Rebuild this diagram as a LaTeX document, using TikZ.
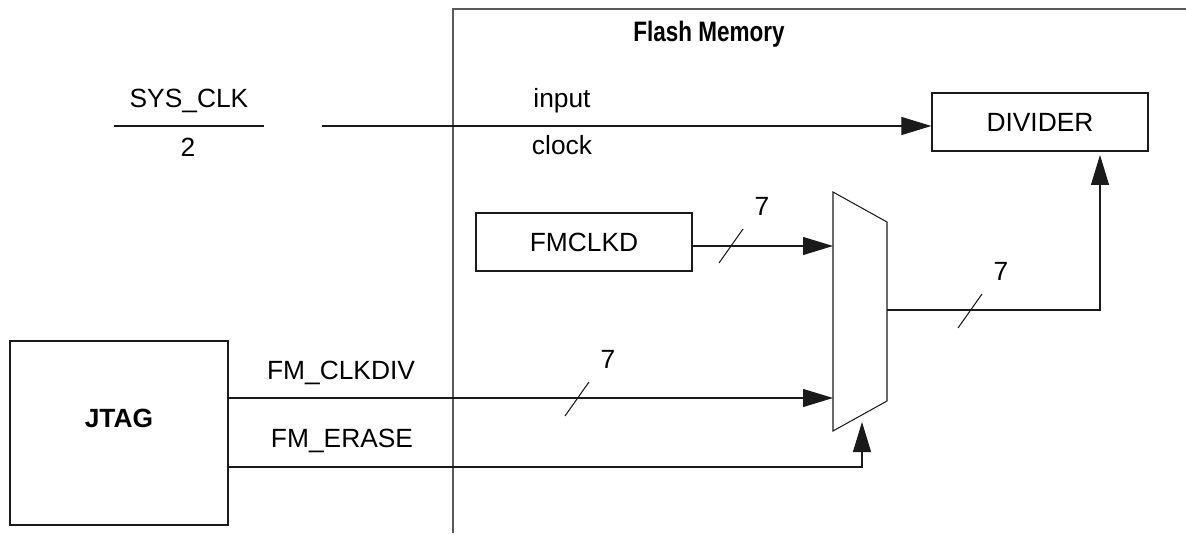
\documentclass[tikz,border=0pt]{standalone}
\usepackage{fontspec}
\setmainfont{Liberation Sans}
\usetikzlibrary{arrows.meta,positioning,calc}
\definecolor{fgray}{HTML}{5A5A5A}
\definecolor{wire}{HTML}{1A1A1A}

\begin{document}
\begin{tikzpicture}[x=0.2mm,y=-0.2mm, font=\fontsize{15}{18}\selectfont,
  blk/.style={draw=wire, line width=0.7pt, minimum width=43.2mm, minimum height=11.6mm},
  sig/.style={wire, line width=0.6pt},
  arr/.style={sig, -{Triangle[length=6mm,width=3.6mm]}},
  lbl/.style={anchor=base}]
 \useasboundingbox (0,0) rectangle (1186,535);
 % flash memory area
 \draw[fgray, line width=0.9pt] (453,533) -- (453,9) -- (1186,9);
 \node[lbl, font=\fontsize{16}{19}\selectfont\bfseries] (flash) at (709,42) {\scalebox{0.8}[1]{Flash Memory}};

 \node[blk] (div) at (1040,122) {DIVIDER};
 \node[blk] (clkd) at (584,242) {FMCLKD};
 \node[blk, minimum width=43.6mm, minimum height=36.8mm] (jtag) at (119,433) {};
 \node[lbl, font=\fontsize{15}{18}\selectfont\bfseries] (jtagtxt) at (119,427) {JTAG};

 % SYS_CLK / 2
 \node[lbl] (sclk) at (189,108) {SYS\_CLK};
 \node[lbl] (half) at (188,157) {2};
 \draw[sig] (114,126) -- (264,126);

 % mux
 \draw[sig] (833,192) coordinate (mux-nw) -- (887,222) coordinate (mux-ne)
  -- (887,401) coordinate (mux-se) -- (833,431) coordinate (mux-sw) -- cycle;
 \coordinate (mux-in1) at (833,246);
 \coordinate (mux-in2) at (833,398);
 \coordinate (mux-sel) at (862,422);
 \coordinate (mux-out) at (887,310);
 \coordinate (div-in) at (1100,155);
 \coordinate (clkin) at (322,126);

 \draw[arr] (clkin) -- (clkin -| div.west);
 \node[lbl] (tin) at (562,108) {input};
 \node[lbl] (tclk) at (562,155) {clock};

 \draw[arr] (clkd.east |- mux-in1) -- (mux-in1);
 \draw[arr] (jtag.east |- mux-in2) -- (mux-in2);
 \draw[arr] (jtag.east |- 0,467) -| (mux-sel);
 \draw[arr] (mux-out) -| (div-in);
 \node[lbl] (tdiv) at (341,380) {FM\_CLKDIV};
 \node[lbl] (terase) at (342,448) {FM\_ERASE};

 % bus width marks
 \foreach \x/\y [count=\i] in {731/246, 577/399, 970/311}{
  \draw[sig] (\x-12,\y+17) -- (\x+12,\y-17);
  \node[lbl] (bw\i) at (\x+31,\y-30) {7};
 }
\end{tikzpicture}
\end{document}
